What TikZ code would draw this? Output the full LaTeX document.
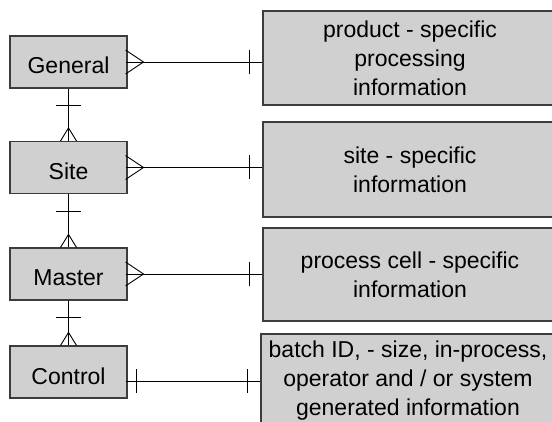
\documentclass[tikz,border=0pt]{standalone}
\usepackage{fontspec}
\setmainfont{Liberation Sans}
\usetikzlibrary{calc}
\definecolor{boxgray}{RGB}{208,208,208}
\definecolor{edgegray}{RGB}{60,60,60}
\tikzset{
  x=1pt, y=-1pt,
  entity/.style={draw=edgegray, fill=boxgray, line width=1.1pt,
    minimum width=117pt, minimum height=52pt, inner sep=0pt,
    text height=24pt, text depth=0pt,
    font=\fontsize{23}{28}\selectfont},
  infobox/.style={draw=edgegray, fill=boxgray, line width=1.1pt,
    minimum width=294pt, inner sep=0pt, align=center,
    font=\fontsize{23}{29}\selectfont},
  rel/.style={draw=black, line width=0.9pt},
}
\begin{document}
\begin{tikzpicture}
\useasboundingbox (0,0) rectangle (552,422);
\begin{scope}
\clip (0,0) rectangle (552,422);

% entity boxes on the left
\node[entity] (general) at (68.5,62)  {General};
\node[entity] (site)    at (68.5,167.5) {Site};
\node[entity] (master)  at (68.5,274) {Master};
\node[entity] (control) at (68.5,372) {Control};

% information boxes on the right
\node[infobox, minimum height=94pt] (ginfo) at (410,58)
  {product - specific\\processing\\information};
\node[infobox, minimum height=95pt] (sinfo) at (410,169.5)
  {site - specific\\information};
\node[infobox, minimum height=93pt] (minfo) at (410,274.5)
  {process cell - specific\\information};
\node[infobox, minimum height=94pt] (cinfo) at (408,381)
  {batch ID, - size, in-process,\\operator and / or system\\generated information};

% many-to-one links from the entities to their information
\foreach \e/\i in {general/ginfo, site/sinfo, master/minfo}{
  \draw[rel] ($(\e.east)+(-2,0)$) -- (\i.west |- \e.east);
  \draw[rel] ($(\e.east)+(-2,-12)$) -- ++(18,12) -- ++(-18,12);
  \draw[rel] ($(\i.west |- \e.east)+(-13,-12)$) -- ++(0,24);
}

% one-to-one link from Control to its information
\coordinate (cl) at ($(control.east)+(-2,9)$);
\draw[rel] (cl) -- (cinfo.west |- cl);
\draw[rel] ($(cl)+(11,-12)$) -- ++(0,24);
\draw[rel] ($(cinfo.west |- cl)+(-13,-12)$) -- ++(0,24);

% one-to-many links down the hierarchy
\foreach \a/\b in {general/site, site/master, master/control}{
  \draw[rel] (\a.south) -- (\b.north);
  \draw[rel] ($(\a.south)+(-12.5,17)$) -- ++(25,0);
  \draw[rel] ($(\b.north)+(-8,0)$) -- ++(8,-13) -- ++(8,13);
}
\end{scope}
\end{tikzpicture}
\end{document}
